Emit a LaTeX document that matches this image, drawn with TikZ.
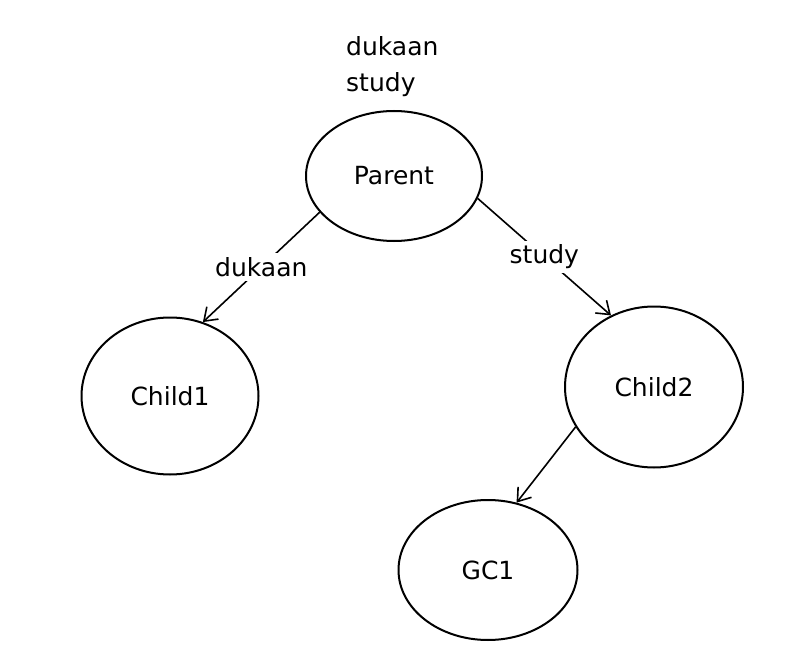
\documentclass[tikz,border=0pt]{standalone}
\usepackage{fontspec}
\setmainfont{DejaVu Sans}
\usepackage{tikz}
\usetikzlibrary{arrows.meta,shapes.geometric}
\tikzset{
    person/.style={ellipse, draw=black, line width=2pt, inner sep=0pt, font=\fontsize{25}{30}\selectfont},
    link/.style={-{Straight Barb[length=12pt,width=17pt]}, line width=1.6pt, black},
    edgelabel/.style={fill=white, inner sep=4pt, font=\fontsize{25}{30}\selectfont},
    notes/.style={align=left, inner sep=0pt, font=\fontsize{25}{36}\selectfont}
}

\begin{document}
\begin{tikzpicture}[x=1pt, y=-1pt]
  \useasboundingbox (0,0) rectangle (796,658);

  % Family nodes
  \node[person, minimum width=176pt, minimum height=130pt] (parent) at (394,176) {Parent};
  \node[person, minimum width=177pt, minimum height=157pt] (child1) at (170,396) {Child1};
  \node[person, minimum width=178pt, minimum height=161pt] (child2) at (654,387) {Child2};
  \node[person, minimum width=179pt, minimum height=140pt] (gc1) at (488,570) {GC1};

  % Items held by the parent
  \node[notes, anchor=north west] (items) at (346,36) {dukaan\\study};

  % Inheritance arrows
  \draw[link] (parent.206) -- node[edgelabel] {dukaan} (child1.66);
  \draw[link] (parent.345) -- node[edgelabel] {study} (child2.121);
  \draw[link] (child2.207) -- (gc1.67);
\end{tikzpicture}
\end{document}
